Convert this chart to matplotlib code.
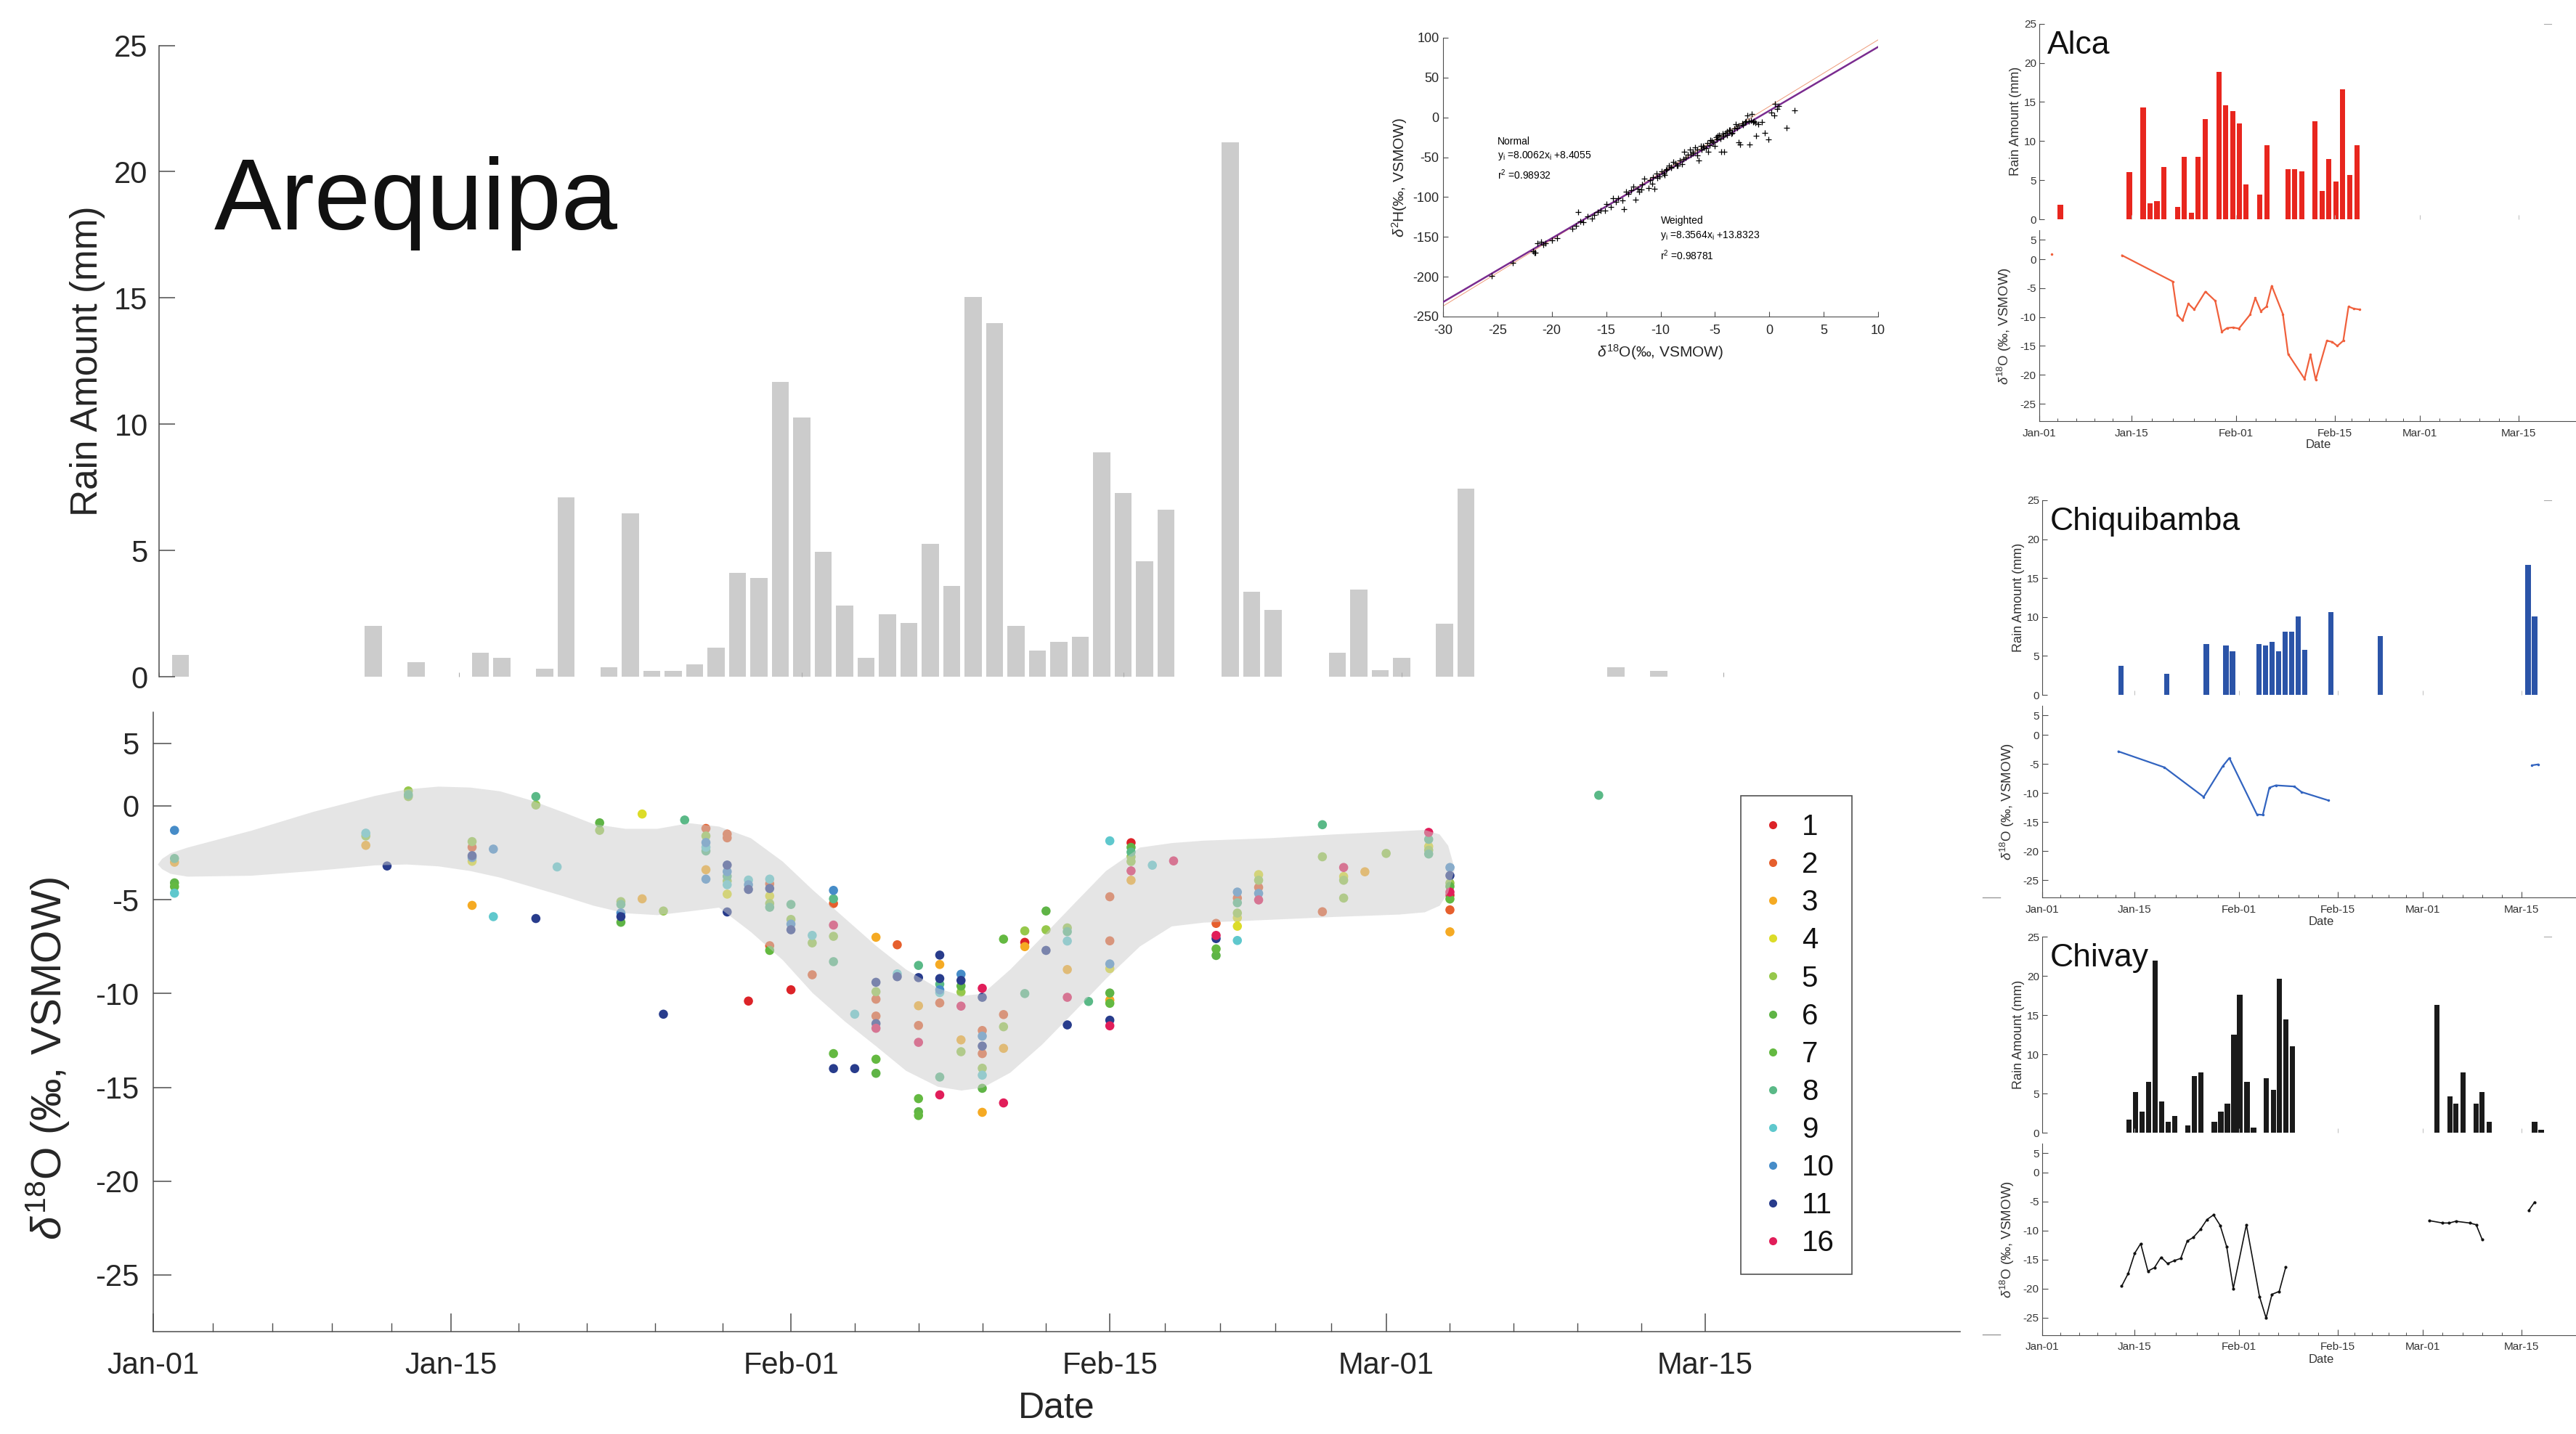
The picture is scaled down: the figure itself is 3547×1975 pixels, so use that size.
import numpy as np
import matplotlib
matplotlib.use('Agg')
import matplotlib.pyplot as plt
from matplotlib.lines import Line2D

plt.rcParams['font.family'] = ['Liberation Sans', 'DejaVu Sans']
plt.rcParams['mathtext.fontset'] = 'custom'
plt.rcParams['mathtext.rm'] = 'Liberation Sans'
plt.rcParams['mathtext.it'] = 'Liberation Sans:italic'
plt.rcParams['mathtext.bf'] = 'Liberation Sans:bold'

# ---------------- data ----------------
# date axis (days after Jan-01, as ticked on the original)
tick_days = [0, 14, 30, 45, 58, 73]
tick_labels = ['Jan-01', 'Jan-15', 'Feb-01', 'Feb-15', 'Mar-01', 'Mar-15']

# Arequipa daily rain (mm)
rain_day = [1, 10, 12, 15, 16, 18, 19, 21, 22, 23, 24, 25, 26, 27, 28, 29,
            30, 31, 32, 33, 34, 35, 36, 37, 38, 39, 40, 41, 42, 43, 44, 45,
            46, 47, 50, 51, 52, 55, 56, 57, 58, 60, 61, 68, 70]
rain_mm = [0.86, 2.0, 0.58, 0.94, 0.76, 0.31, 7.09, 0.38, 6.46, 0.23, 0.23,
           0.5, 1.15, 4.12, 3.9, 11.67, 10.27, 4.95, 2.81, 0.76, 2.46, 2.14,
           5.27, 3.58, 15.05, 13.99, 2.01, 1.03, 1.38, 1.58, 8.88, 7.27, 4.57,
           6.6, 21.15, 3.35, 2.64, 0.94, 3.45, 0.25, 0.76, 2.09, 7.46, 0.38,
           0.23]

# Arequipa d18O samples: day, value, site number
o18_day = [
    1, 1, 1, 1, 1, 1,
    10, 10, 10,
    11,
    12, 12, 12,
    15, 15, 15, 15, 15, 15,
    16, 16,
    18, 18, 18,
    19,
    21, 21,
    22, 22, 22, 22, 22,
    23, 23,
    24, 24,
    25,
    26, 26, 26, 26, 26, 26, 26,
    27, 27, 27, 27, 27, 27, 27, 27, 27,
    28, 28, 28, 28,
    29, 29, 29, 29, 29, 29, 29, 29,
    30, 30, 30, 30, 30,
    31, 31, 31,
    32, 32, 32, 32, 32, 32, 32, 32,
    33, 33,
    34, 34, 34, 34, 34, 34, 34, 34, 34,
    35, 35, 35,
    36, 36, 36, 36, 36, 36, 36, 36,
    37, 37, 37, 37, 37, 37, 37, 37, 37,
    38, 38, 38, 38, 38, 38, 38,
    39, 39, 39, 39, 39, 39, 39, 39, 39, 39,
    40, 40, 40, 40, 40,
    41, 41, 41, 41,
    42, 42, 42,
    43, 43, 43, 43, 43, 43,
    44,
    45, 45, 45, 45, 45, 45, 45, 45, 45, 45,
    46, 46, 46, 46, 46, 46, 46,
    47,
    48,
    50, 50, 50, 50, 50,
    51, 51, 51, 51, 51, 51, 51,
    52, 52, 52, 52, 52,
    55, 55, 55,
    56, 56, 56, 56,
    57,
    58,
    60, 60, 60, 60, 60,
    61, 61, 61, 61, 61, 61, 61, 61, 61,
    68,
]
o18_val = [
    -1.3, -2.8, -3.0, -4.1, -4.3, -4.65,
    -1.45, -1.6, -2.1,
    -3.2,
    0.8, 0.6, 0.5,
    -1.9, -2.2, -2.65, -2.75, -2.95, -5.3,
    -2.3, -5.9,
    0.5, 0.05, -6.0,
    -3.25,
    -0.9, -1.3,
    -5.1, -5.25, -5.7, -5.9, -6.2,
    -0.43, -4.95,
    -5.6, -11.1,
    -0.75,
    -1.2, -1.6, -1.95, -2.2, -2.4, -3.4, -3.9,
    -1.5, -1.7, -3.15, -3.5, -3.75, -4.0, -4.2, -4.7, -5.65,
    -3.95, -4.2, -4.45, -10.4,
    -3.9, -4.15, -4.4, -4.8, -5.2, -5.4, -7.45, -7.7,
    -5.25, -6.05, -6.3, -6.6, -9.8,
    -6.9, -7.3, -9.0,
    -4.5, -4.95, -5.2, -6.35, -6.95, -8.3, -13.2, -14.0,
    -11.1, -14.0,
    -7.0, -9.4, -9.9, -10.3, -11.2, -11.6, -11.85, -13.5, -14.25,
    -7.4, -8.95, -9.1,
    -8.5, -9.15, -10.65, -11.7, -12.6, -15.6, -16.3, -16.5,
    -7.95, -8.45, -9.2, -9.5, -9.8, -9.95, -10.5, -14.45, -15.4,
    -8.97, -9.3, -9.6, -9.92, -10.67, -12.47, -13.1,
    -9.72, -10.2, -11.97, -12.27, -12.8, -13.2, -13.98, -14.35, -15.05, -16.33,
    -7.1, -11.12, -11.77, -12.92, -15.83,
    -6.66, -7.27, -7.5, -10.0,
    -5.6, -6.6, -7.7,
    -6.5, -6.7, -7.2, -8.72, -10.2, -11.67,
    -10.42,
    -1.86, -4.84, -7.19, -8.42, -8.67, -9.97, -10.35, -10.52, -11.42, -11.72,
    -1.96, -2.21, -2.46, -2.71, -2.96, -3.46, -3.96,
    -3.16,
    -2.93,
    -6.26, -6.9, -7.07, -7.62, -7.97,
    -4.59, -4.91, -5.16, -5.71, -5.96, -6.41, -7.17,
    -3.66, -3.96, -4.34, -4.66, -5.01,
    -1.0, -2.71, -5.64,
    -3.28, -3.76, -3.96, -4.91,
    -3.51,
    -2.53,
    -1.41, -1.78, -2.16, -2.36, -2.56,
    -3.28, -3.71, -4.11, -4.29, -4.59, -4.76, -4.96, -5.54, -6.71,
    0.57,
]
o18_site = [
    10, 8, 3, 6, 7, 9,
    9, 5, 3,
    11,
    5, 8, 5,
    5, 2, 11, 10, 4, 3,
    10, 9,
    8, 5, 11,
    9,
    6, 5,
    5, 8, 10, 11, 6,
    4, 3,
    5, 11,
    8,
    2, 5, 10, 9, 8, 3, 10,
    2, 2, 11, 10, 8, 5, 9, 4, 11,
    9, 10, 11, 1,
    9, 2, 11, 4, 5, 8, 2, 7,
    8, 5, 10, 11, 1,
    9, 5, 2,
    10, 8, 2, 16, 5, 8, 7, 11,
    9, 11,
    3, 11, 5, 2, 2, 11, 16, 7, 6,
    2, 9, 11,
    8, 11, 3, 2, 16, 7, 6, 7,
    11, 3, 11, 8, 10, 9, 2, 8, 16,
    10, 11, 6, 5, 16, 3, 5,
    16, 11, 2, 10, 11, 2, 5, 9, 6, 3,
    7, 2, 5, 3, 16,
    5, 1, 3, 8,
    6, 5, 11,
    5, 8, 9, 3, 16, 11,
    8,
    9, 2, 2, 10, 4, 6, 3, 7, 11, 16,
    1, 6, 8, 5, 5, 16, 3,
    9,
    16,
    2, 16, 11, 7, 6,
    10, 2, 8, 5, 4, 4, 9,
    4, 5, 2, 10, 16,
    8, 5, 2,
    16, 4, 5, 5,
    3,
    5,
    16, 8, 4, 5, 8,
    10, 11, 5, 6, 16, 1, 7, 2, 3,
    8,
]

sites = [1, 2, 3, 4, 5, 6, 7, 8, 9, 10, 11, 16]
site_colors = {1: '#dc2328', 2: '#e65f2d', 3: '#f5aa23', 4: '#dcdc28',
               5: '#96c84b', 6: '#5fb446', 7: '#64b941', 8: '#5ab987',
               9: '#5fc8cd', 10: '#468cc8', 11: '#283c8c', 16: '#e11e5a'}

# grey envelope drawn over the samples
band_day = [0.2, 0.4, 0.8, 1.6, 4.6, 7.5, 10.4, 11.9, 13.4, 14.9, 16.3,
            17.8, 19.3, 20.7, 22.2, 23.7, 25.2, 26.6, 28.1, 29.6, 31.0,
            32.5, 34.0, 35.4, 36.9, 38.0, 39.0, 40.3, 41.8, 43.3, 44.8,
            46.4, 47.9, 49.4, 52.5, 55.5, 58.6, 59.8, 60.5, 60.9, 61.2]
band_hi = [-3.1, -2.8, -2.5, -2.2, -1.3, -0.3, 0.55, 0.9, 1.05, 1.0, 0.8,
           0.3, -0.33, -0.95, -1.2, -1.2, -0.9, -1.08, -1.7, -2.95, -4.45,
           -5.95, -7.45, -8.7, -9.7, -10.1, -10.0, -8.7, -6.97, -5.2, -3.45,
           -2.2, -1.96, -1.83, -1.7, -1.5, -1.33, -1.26, -1.5, -2.1, -3.3]
band_lo = [-3.1, -3.35, -3.6, -3.75, -3.7, -3.45, -3.15, -3.1, -3.2, -3.45,
           -3.8, -4.3, -4.8, -5.3, -5.7, -5.8, -5.6, -5.4, -6.7, -8.2, -9.95,
           -11.45, -12.8, -14.1, -14.95, -15.15, -15.0, -14.2, -12.7, -10.97,
           -9.2, -7.47, -6.4, -6.2, -6.05, -5.9, -5.77, -5.65, -5.3, -4.6,
           -3.4]

# d2H vs d18O inset
lmwl_d18o = [-25.5, -23.6, -21.7, -21.55, -21.3, -21.0, -20.6, -20.0, -19.5,
             -18.1, -17.8, -17.4, -17.1, -17.6, -16.7, -16.3, -15.8, -15.1,
             -15.0, -14.6, -14.4, -13.9, -13.5, -13.4, -13.2, -12.7, -12.5,
             -12.3, -12.0, -11.8, -11.5, -11.1, -10.8, -10.6, -10.4, -10.1,
             -9.9, -9.65, -9.4, -9.2, -9.05, -8.8, -8.5, -8.2, -8.0, -7.85,
             -7.5, -7.3, -7.05, -6.8, -6.65, -6.5, -6.3, -6.0, -5.8, -5.6,
             -5.4, -5.15, -5.0, -4.75, -4.5, -4.4, -4.15, -4.05, -3.9, -3.7,
             -3.4, -3.1, -2.95, -2.8, -2.7, -2.45, -2.15, -2.0, -1.8, -1.6,
             -1.4, -1.2, -1.05, -0.7, -0.4, -0.1, 0.16, 0.44, 0.55, 0.7, 0.85,
             1.6, 2.3,
             -21.6, -20.8, -16.1, -15.5, -14.1, -13.0, -12.1, -11.7, -11.0,
             -10.7, -10.3, -9.7, -9.5, -9.0, -8.6, -8.4, -7.9, -7.7, -7.2,
             -7.0, -6.6, -6.2, -6.1, -5.7, -5.5, -5.3, -4.9, -4.8, -4.6, -4.3,
             -4.2, -3.9, -3.6, -3.5, -3.2, -2.8, -2.5, -2.2, -1.9, -1.7, -1.5,
             -1.3]
lmwl_d2h = [-199.4, -182.6, -168, -169.5, -157.6, -156, -158, -154.6, -151.5,
            -140, -136, -130.8, -131.7, -119, -124, -127, -119, -116.5, -109,
            -112, -101, -101, -104, -115, -93, -91.5, -86.6, -103, -93, -90.5,
            -76.8, -88.4, -83, -90, -70.7, -73.8, -67.7, -72, -64.6, -60, -63,
            -56, -60, -54, -58.5, -43.3, -46.3, -40.2, -44.8, -38, -48, -54,
            -35.7, -37.2, -38.7, -43.3, -28.7, -31, -35.7, -23.5, -26.5,
            -43.3, -43.3, -19, -22, -15.9, -19, -8.2, -12.8, -31, -34, -9.8,
            -5.2, 2.4, -34, 4, -5.2, -23.5, -8.2, -6, -19, -27.4, 6, 2.4, 17,
            11, 14.6, -12.8, 8.5,
            -170, -160, -122, -117, -106, -96, -90, -84, -79, -75, -76, -70,
            -66, -62, -58, -60, -52, -50, -47, -43, -40, -40, -36, -32, -35,
            -29, -25, -28, -22, -20, -24, -18, -16, -20, -14, -10, -8, -6, -5,
            -4, -6, -7]
fit_normal = (8.0062, 8.4055)
fit_weighted = (8.3564, 13.8323)

# Alca
alca_rain_day = [3.2, 13.7, 15.8, 16.9, 17.9, 19.0, 21.1, 22.1, 23.2, 24.2,
                 25.3, 27.4, 28.4, 29.5, 30.5, 31.5, 33.6, 34.7, 37.9, 38.9,
                 40.0, 42.0, 43.1, 44.1, 45.2, 46.2, 47.3, 48.4]
alca_rain = [1.9, 6.06, 14.28, 2.08, 2.35, 6.7, 1.6, 7.95, 0.83, 7.95, 12.77,
             18.86, 14.55, 13.83, 12.27, 4.43, 3.14, 9.5, 6.44, 6.44, 6.14,
             12.5, 3.6, 7.69, 4.85, 16.6, 5.68, 9.47]
alca_o18_day = [1.9, np.nan, 12.6, 20.3, 21.05, 21.8, 22.7, 23.6, 25.3, 26.8,
                27.8, 28.6, 29.5, 30.4, 32.1, 32.9, 33.75, 34.6, 35.4, 37.1,
                37.9, 40.4, 41.3, 42.1, 43.8, 44.6, 45.4, 46.3, 47.1, 47.9,
                48.8]
alca_o18 = [0.92, np.nan, 0.67, -3.84, -9.7, -10.6, -7.7, -8.7, -5.6, -7.2,
            -12.55, -11.9, -11.8, -12.0, -9.6, -6.7, -9.0, -8.2, -4.6, -9.5,
            -16.4, -20.7, -16.5, -20.85, -14.1, -14.3, -15.0, -14.1, -8.2,
            -8.55, -8.7]

# Chiquibamba
chiq_rain_day = [12, 19, 25, 28, 29, 33, 34, 35, 36, 37, 38, 39, 40, 44,
                 51.5, 74, 75]
chiq_rain = [3.72, 2.74, 6.57, 6.31, 5.59, 6.57, 6.34, 6.84, 5.59, 8.09, 8.09,
             10.1, 5.78, 10.68, 7.6, 16.72, 10.1]
chiq_o18_day = [11.6, 18.6, 24.6, 27.5, 28.5, 32.7, 33.6, 34.6, 35.6, 38.4,
                39.5, 43.6, np.nan, 74.6, 75.5]
chiq_o18 = [-2.86, -5.6, -10.7, -5.4, -4.0, -13.7, -13.8, -9.1, -8.7, -8.9,
            -9.85, -11.3, np.nan, -5.25, -5.1]

# Chivay
chivay_rain_day = [13.2, 14.2, 15.2, 16.2, 17.2, 18.2, 19.2, 20.2, 22.2, 23.2,
                   24.2, 26.2, 27.2, 28.2, 29.2, 30.1, 31.2, 32.2, 34.1, 35.2,
                   36.1, 37.1, 38.1, 60.1, 62.1, 63.0, 64.1, 66.1, 67.0, 68.1,
                   75.0, 76.0]
chivay_rain = [1.67, 5.2, 2.7, 6.46, 21.96, 3.96, 1.38, 2.13, 0.88, 7.2, 7.7,
               1.38, 2.67, 3.67, 12.54, 17.6, 6.46, 0.67, 6.96, 5.42, 19.6,
               14.4, 11.04, 16.33, 4.67, 3.67, 7.7, 3.67, 5.2, 1.38, 1.38, 0.38]
chivay_o18_day = [12.1, 13.1, 14.1, 15.0, 16.1, 17.1, 18.1, 19.1, 20.1, 21.1,
                  22.1, 23.0, 24.1, 25.1, 26.1, 27.1, 28.1, 29.1, 31.1, 33.1,
                  34.1, 35.0, 36.1, 37.1, np.nan, 59.0, 61.0, 62.0, 63.0, 65.1,
                  66.1, 67.0, np.nan, 74.1, 75.0]
chivay_o18 = [-19.6, -17.4, -13.9, -12.25, -17.0, -16.4, -14.6, -15.7, -15.2,
              -14.8, -11.8, -11.2, -9.8, -8.1, -7.3, -9.1, -12.8, -20.0, -9.0,
              -21.4, -25.1, -21.0, -20.5, -16.3, np.nan, -8.3, -8.7, -8.7,
              -8.4, -8.7, -9.0, -11.5, np.nan, -6.55, -5.1]

# ---------------- layout helpers ----------------
W, H = 3547, 1975
DPI = 100
AX_COL = '#4d4d4d'
TXT_COL = '#262626'
O18_TICKS = [-25, -20, -15, -10, -5, 0, 10 / 3]
O18_LABELS = ['-25', '-20', '-15', '-10', '-5', '0', '5']
O18_LABEL = r'$\delta^{18}$O (‰, VSMOW)'


def px_box(left, top, right, bottom):
    """Axes rectangle from pixel edges of the 3547x1975 picture."""
    return [left / W, 1 - bottom / H, (right - left) / W, (bottom - top) / H]


def minor_days(majors):
    return [a + (b - a) * k / 5 for a, b in zip(majors[:-1], majors[1:])
            for k in range(1, 5)]


def only_spines(ax, keep):
    for side, sp in ax.spines.items():
        sp.set_visible(side in keep)
        sp.set_color(AX_COL)


fig = plt.figure(figsize=(W / DPI, H / DPI), dpi=DPI)

# ---------------- Arequipa rain ----------------
ax_r = fig.add_axes(px_box(219, 62.5, 219 + 84 * 29.5, 932))
ax_r.patch.set_alpha(0)
ax_r.bar(rain_day, rain_mm, width=0.8, color='#cccccc', edgecolor='none')
ax_r.set_xlim(0, 84)
ax_r.set_ylim(0, 25)
only_spines(ax_r, ['left'])
ax_r.spines['left'].set_linewidth(1.1)
ax_r.set_yticks([0, 5, 10, 15, 20, 25])
ax_r.set_xticks(tick_days)
ax_r.set_xticklabels([])
ax_r.tick_params(axis='y', direction='in', length=16, width=1.1, color=AX_COL,
                 labelcolor=TXT_COL, labelsize=30, pad=11)
ax_r.tick_params(axis='x', direction='in', length=4, width=0.8,
                 color='#aaaaaa')
ax_r.set_ylabel('Rain Amount (mm)', fontsize=37, color=TXT_COL)
ax_r.yaxis.set_label_coords(-0.030, 0.5)
fig.text(295 / W, 1 - 316 / H, 'Arequipa', fontsize=100, color='#111111',
         ha='left', va='baseline')

# ---------------- Arequipa d18O ----------------
ax_o = fig.add_axes(px_box(211, 980.8, 211 + 85 * 29.27, 1833.5))
ax_o.patch.set_alpha(0)
for site in sites:
    xs = [d for d, s in zip(o18_day, o18_site) if s == site]
    ys = [v for v, s in zip(o18_val, o18_site) if s == site]
    ax_o.scatter(xs, ys, s=82, color=site_colors[site], edgecolors='none',
                 zorder=2)
ax_o.fill_between(band_day, band_lo, band_hi, color='#cccccc', alpha=0.5,
                  lw=0, zorder=3)
ax_o.set_xlim(0, 85)
ax_o.set_ylim(-28, 5)
only_spines(ax_o, ['left', 'bottom'])
for sp in ax_o.spines.values():
    sp.set_linewidth(1.1)
ax_o.set_yticks(O18_TICKS)
ax_o.set_yticklabels(O18_LABELS)
ax_o.set_xticks(tick_days)
ax_o.set_xticklabels(tick_labels)
ax_o.set_xticks(minor_days(tick_days), minor=True)
ax_o.tick_params(axis='both', which='major', direction='in', length=18,
                 width=1.1, color=AX_COL, labelcolor=TXT_COL, labelsize=30)
ax_o.tick_params(axis='x', which='major', pad=20)
ax_o.tick_params(axis='y', which='major', pad=14)
ax_o.tick_params(axis='x', which='minor', direction='in', length=9,
                 width=1.0, color=AX_COL)
ax_o.set_xlabel('Date', fontsize=36, color=TXT_COL)
ax_o.xaxis.set_label_coords(0.5, -0.098)
ax_o.set_ylabel(O18_LABEL, fontsize=42, color=TXT_COL)
ax_o.yaxis.set_label_coords(-0.045, 0.44)

handles = [Line2D([0], [0], marker='o', ls='none', markersize=8,
                  markerfacecolor=site_colors[s], markeredgecolor='none')
           for s in sites]
leg = fig.legend(handles, [str(s) for s in sites], loc='upper left',
                 bbox_to_anchor=(2397 / W, 1 - 1096 / H), borderaxespad=0,
                 fontsize=29, frameon=True, fancybox=False,
                 edgecolor=TXT_COL, labelspacing=0.35, handlelength=1.0,
                 handletextpad=0.48, borderpad=0.6)
leg.get_frame().set_linewidth(1.2)
for t in leg.get_texts():
    t.set_color('#111111')

# ---------------- d2H vs d18O inset ----------------
ax_i = fig.add_axes(px_box(1987, 52, 2586, 436))
ax_i.patch.set_alpha(0)
line_x = np.array([-30, 10])
ax_i.plot(line_x, fit_weighted[0] * line_x + fit_weighted[1],
          color='#ee9a78', lw=0.7, zorder=2)
ax_i.plot(line_x, fit_normal[0] * line_x + fit_normal[1],
          color='#7a2b8f', lw=1.8, zorder=3)
ax_i.plot(lmwl_d18o, lmwl_d2h, ls='none', marker='+', markersize=6,
          markeredgewidth=0.9, color='black', zorder=4)
ax_i.set_xlim(-30, 10)
ax_i.set_ylim(-250, 100)
only_spines(ax_i, ['left', 'bottom'])
ax_i.set_xticks(range(-30, 11, 5))
ax_i.set_xticklabels([str(v) for v in range(-30, 11, 5)])
ax_i.set_yticks(range(-250, 101, 50))
ax_i.set_yticklabels([str(v) for v in range(-250, 101, 50)])
ax_i.tick_params(direction='in', length=5, width=0.8, color=AX_COL,
                 labelcolor=TXT_COL, labelsize=13, pad=4)
ax_i.tick_params(axis='x', pad=8)
ax_i.set_xlabel(r'$\delta^{18}$O(‰, VSMOW)', fontsize=15, color=TXT_COL,
                labelpad=6)
ax_i.set_ylabel(r'$\delta^{2}$H(‰, VSMOW)', fontsize=15, color=TXT_COL,
                labelpad=4)
ax_i.text(-25, -30, 'Normal', fontsize=10, va='center')
ax_i.text(-25, -48, r'$\mathrm{y}_{\mathrm{i}}$ =8.0062$\mathrm{x}_{\mathrm{i}}$ +8.4055',
          fontsize=10, va='center')
ax_i.text(-25, -72, r'$\mathrm{r}^{2}$ =0.98932', fontsize=10, va='center')
ax_i.text(-10, -130, 'Weighted', fontsize=10, va='center')
ax_i.text(-10, -148, r'$\mathrm{y}_{\mathrm{i}}$ =8.3564$\mathrm{x}_{\mathrm{i}}$ +13.8323',
          fontsize=10, va='center')
ax_i.text(-10, -173, r'$\mathrm{r}^{2}$ =0.98781', fontsize=10, va='center')


# ---------------- small station panels ----------------
def station(name, left, rain_top, rain_bot, o_top, o_bot, r_day, r_mm,
            o_day, o_val, bar_col, line_col, lw, date_y, marker=None):
    right = left + 85 * 9.04
    ar = fig.add_axes(px_box(left, rain_top, right, rain_bot))
    ar.patch.set_alpha(0)
    ar.bar(r_day, r_mm, width=0.82, color=bar_col, edgecolor='none')
    ar.set_xlim(0, 85)
    ar.set_ylim(0, 25)
    only_spines(ar, ['left'])
    ar.spines['left'].set_linewidth(0.8)
    ar.set_yticks([0, 5, 10, 15, 20, 25])
    ar.set_xticks(tick_days)
    ar.set_xticklabels([])
    ar.tick_params(axis='y', direction='in', length=5, width=0.8,
                   color=AX_COL, labelcolor='#333333', labelsize=11, pad=3)
    ar.tick_params(axis='x', direction='in', length=4, width=0.7,
                   color='#bbbbbb')
    ar.set_ylabel('Rain Amount (mm)', fontsize=13, color='#333333')
    ar.yaxis.set_label_coords(-0.031, 0.5)
    fig.text((left + 11) / W, 1 - (rain_top + 41) / H, name, fontsize=32,
             color='#111111', ha='left', va='baseline')

    ao = fig.add_axes(px_box(left, o_top, right, o_bot))
    ao.patch.set_alpha(0)
    ao.plot(o_day, o_val, color=line_col, lw=lw, marker=marker or '.',
            markersize=4 if marker else 3)
    ao.set_xlim(0, 85)
    ao.set_ylim(-28, 5)
    only_spines(ao, ['left', 'bottom'])
    for sp in ao.spines.values():
        sp.set_linewidth(0.8)
    ao.set_yticks(O18_TICKS)
    ao.set_yticklabels(O18_LABELS)
    ao.set_xticks(tick_days)
    ao.set_xticklabels(tick_labels)
    ao.set_xticks(minor_days(tick_days), minor=True)
    ao.tick_params(axis='both', which='major', direction='in', length=6,
                   width=0.8, color=AX_COL, labelcolor='#333333',
                   labelsize=11, pad=3)
    ao.tick_params(axis='x', which='major', pad=7)
    ao.tick_params(axis='x', which='minor', direction='in', length=3,
                   width=0.7, color=AX_COL)
    ao.set_xlabel('Date', fontsize=12, color='#333333')
    ao.xaxis.set_label_coords(0.5, date_y)
    ao.set_ylabel(O18_LABEL, fontsize=13.5, color='#333333')
    ao.yaxis.set_label_coords(-0.047, 0.5)
    # short corner dash at the top right of the rain box
    fig.add_artist(Line2D([3503 / W, 3513 / W], [1 - rain_top / H] * 2,
                          color='#aaaaaa', lw=0.8))


station('Alca', 2808, 32.7, 302, 317.2, 579.9, alca_rain_day, alca_rain,
        alca_o18_day, alca_o18, '#e8261e', '#f0603c', 1.6, -0.096)
station('Chiquibamba', 2812, 689, 957, 972, 1236, chiq_rain_day, chiq_rain,
        chiq_o18_day, chiq_o18, '#2b54a8', '#3264c0', 1.6, -0.098)
station('Chivay', 2812, 1290, 1560, 1575, 1838.5, chivay_rain_day,
        chivay_rain, chivay_o18_day, chivay_o18, '#1a1a1a', '#111111', 1.2,
        -0.100, marker='.')

# stray axis stubs left of the lower panels
for y in (1236, 1838):
    fig.add_artist(Line2D([2730 / W, 2754 / W], [1 - y / H] * 2,
                          color='#999999', lw=1.0))

fig.savefig('out.png', dpi=DPI)
